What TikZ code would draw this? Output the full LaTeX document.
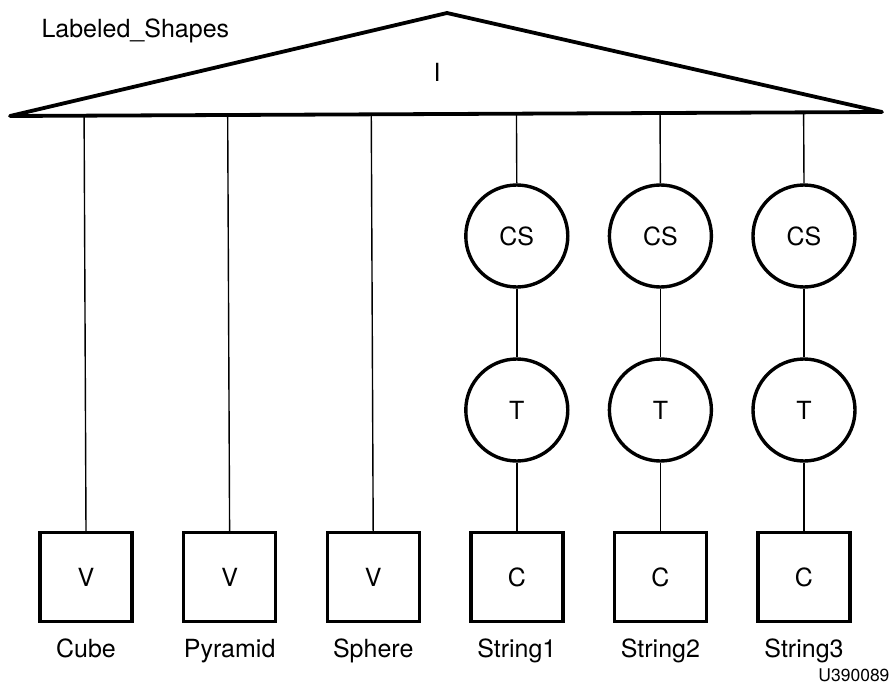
\documentclass[tikz,border=0pt]{standalone}
\usepackage{fontspec}
\setmainfont{TeX Gyre Heros}
\usetikzlibrary{positioning,calc}

\begin{document}
\begin{tikzpicture}[
  x=1pt, y=-1pt,
  font=\fontsize{25}{30}\selectfont,
  knot/.style={draw, circle, line width=3.4pt, minimum size=102pt, inner sep=0pt},
  leaf/.style={draw, line width=3.4pt, minimum width=92pt, minimum height=89pt, inner sep=0pt},
  link/.style={line width=1.4pt},
  tag/.style={anchor=base}
]
  \useasboundingbox (0,0) rectangle (895,685);

  % wurzel
  \coordinate (apex) at (447,13);
  \coordinate (bl) at (10,116);
  \coordinate (br) at (882,112);
  \draw[line width=3.8pt, line join=round] (bl) -- (apex) -- (br) -- cycle;
  \node (root) at (437,72) {I};
  \node[anchor=base west] (title) at (38,38) {Labeled\_Shapes};

  % V-blaetter
  \foreach \lbl [count=\n from 0] in {Cube,Pyramid,Sphere}{
    \node[leaf] (v\n) at (86+143.6*\n,577) {V};
    \node[tag] (n\n) at ($(v\n.center)+(0,80)$) {\lbl};
    \draw[link] ($(bl)!(v\n.north)!(br)$) -- (v\n.north);
  }

  % ketten CS - T - C
  \foreach \lbl [count=\n from 3] in {String1,String2,String3}{
    \node[knot] (cs\n) at (86+143.6*\n,236) {CS};
    \node[knot] (t\n)  at (86+143.6*\n,410) {T};
    \node[leaf] (c\n)  at (86+143.6*\n,577) {C};
    \node[tag] (n\n) at ($(c\n.center)+(0,80)$) {\lbl};
    \draw[link] ($(bl)!(cs\n.north)!(br)$) -- (cs\n.north);
    \draw[link] (cs\n) -- (t\n);
    \draw[link] (t\n) -- (c\n);
  }

  \node[anchor=base east, font=\fontsize{17.5}{20}\selectfont] (code) at (893,681) {U390089};
\end{tikzpicture}
\end{document}
